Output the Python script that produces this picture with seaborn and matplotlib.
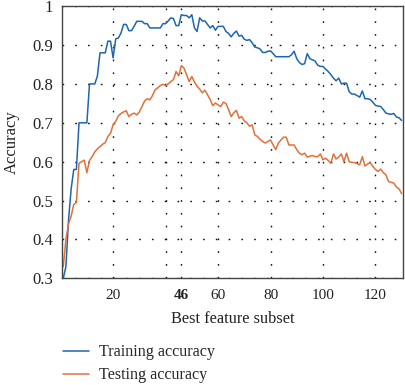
import matplotlib
matplotlib.use("Agg")
import matplotlib.pyplot as plt
import numpy as np
import pandas as pd
import seaborn as sns

subset = list(range(1, 131))
training = [
    0.300, 0.330, 0.450, 0.530, 0.580, 0.580, 0.700, 0.700, 0.700, 0.700,
    0.800, 0.800, 0.800, 0.820, 0.880, 0.880, 0.880, 0.910, 0.910, 0.867,
    0.916, 0.918, 0.931, 0.953, 0.953, 0.937, 0.937, 0.948, 0.961, 0.961,
    0.961, 0.955, 0.955, 0.944, 0.944, 0.944, 0.944, 0.944, 0.955, 0.955,
    0.962, 0.970, 0.968, 0.950, 0.950, 0.978, 0.976, 0.976, 0.970, 0.978,
    0.944, 0.935, 0.970, 0.962, 0.962, 0.953, 0.944, 0.950, 0.938, 0.948,
    0.948, 0.948, 0.935, 0.930, 0.921, 0.930, 0.936, 0.923, 0.925, 0.915,
    0.912, 0.914, 0.906, 0.895, 0.893, 0.890, 0.881, 0.881, 0.884, 0.885,
    0.878, 0.870, 0.870, 0.870, 0.870, 0.870, 0.870, 0.875, 0.884, 0.865,
    0.855, 0.850, 0.852, 0.878, 0.865, 0.862, 0.859, 0.848, 0.845, 0.845,
    0.838, 0.832, 0.824, 0.815, 0.808, 0.815, 0.800, 0.802, 0.802, 0.780,
    0.774, 0.774, 0.770, 0.766, 0.782, 0.762, 0.762, 0.760, 0.753, 0.745,
    0.743, 0.742, 0.734, 0.725, 0.723, 0.722, 0.724, 0.715, 0.713, 0.706,
]
testing = [
    0.330, 0.400, 0.440, 0.460, 0.490, 0.495, 0.596, 0.600, 0.604, 0.572,
    0.603, 0.613, 0.625, 0.633, 0.639, 0.645, 0.649, 0.665, 0.673, 0.695,
    0.704, 0.718, 0.724, 0.728, 0.731, 0.716, 0.722, 0.725, 0.720, 0.728,
    0.742, 0.756, 0.762, 0.759, 0.770, 0.785, 0.790, 0.796, 0.799, 0.796,
    0.800, 0.806, 0.811, 0.832, 0.821, 0.847, 0.841, 0.824, 0.806, 0.819,
    0.805, 0.794, 0.787, 0.777, 0.784, 0.772, 0.760, 0.744, 0.751, 0.746,
    0.742, 0.753, 0.750, 0.734, 0.716, 0.726, 0.732, 0.712, 0.716, 0.705,
    0.700, 0.691, 0.695, 0.669, 0.665, 0.658, 0.652, 0.648, 0.652, 0.656,
    0.643, 0.631, 0.648, 0.656, 0.663, 0.663, 0.643, 0.643, 0.643, 0.631,
    0.622, 0.618, 0.622, 0.612, 0.614, 0.616, 0.613, 0.613, 0.620, 0.605,
    0.609, 0.603, 0.596, 0.620, 0.607, 0.612, 0.620, 0.600, 0.622, 0.600,
    0.598, 0.598, 0.595, 0.592, 0.613, 0.589, 0.594, 0.598, 0.588, 0.580,
    0.575, 0.581, 0.572, 0.566, 0.549, 0.547, 0.545, 0.535, 0.530, 0.518,
]
series_names = ["Training accuracy", "Testing accuracy"]
xticks = [20, 40, 46, 60, 80, 100, 120]
xtick_labels = ["20", "", "46", "60", "80", "100", "120"]
yticks = [0.3, 0.4, 0.5, 0.6, 0.7, 0.8, 0.9, 1.0]
ytick_labels = ["0.3", "0.4", "0.5", "0.6", "0.7", "0.8", "0.9", "1"]

blue = "#1f66ae"
orange = "#e2703a"

sns.set_theme(style="white")
plt.rcParams['font.family'] = ['Liberation Serif', 'DejaVu Serif']

df = pd.DataFrame({
    "subset": subset * 2,
    "acc": training + testing,
    "series": [series_names[0]] * len(subset) + [series_names[1]] * len(subset),
})

fig = plt.figure(figsize=(4.05, 3.85), dpi=100)
ax = fig.add_axes([0.153, 0.277, 0.842, 0.707])
sns.lineplot(data=df, x="subset", y="acc", hue="series",
             palette=[blue, orange], linewidth=1.1, ax=ax)

ax.set_xlim(0.5, 130.5)
ax.set_ylim(0.3, 1.0)
ax.set_xticks(xticks)
ax.set_xticklabels(xtick_labels, fontsize=11, color="#222222")
for lab in ax.get_xticklabels():
    if lab.get_text() == "46":
        lab.set_fontweight("bold")
ax.set_yticks(yticks)
ax.set_yticklabels(ytick_labels, fontsize=12, color="#222222")
ax.tick_params(axis="x", direction="out", length=3, width=0.8, color="#333333", pad=5)
ax.tick_params(axis="y", length=0, pad=6.5)
ax.grid(True, linestyle=(0, (1.2, 8.0)), color="#111111", linewidth=1.0)
for s in ax.spines.values():
    s.set_color("#444444")
    s.set_linewidth(1.0)
ax.set_xlabel("Best feature subset", fontsize=11.8, color="#222222", labelpad=6)
ax.set_ylabel("Accuracy", fontsize=12, color="#222222", labelpad=9)

handles, labels = ax.get_legend_handles_labels()
ax.get_legend().remove()
fig.legend(handles, labels, loc="upper left", bbox_to_anchor=(0.155, 0.106),
           frameon=False, fontsize=11.6, handlelength=1.65, handletextpad=0.62,
           labelspacing=0.45, borderpad=0, borderaxespad=0)

fig.savefig("out.png", dpi=100)
